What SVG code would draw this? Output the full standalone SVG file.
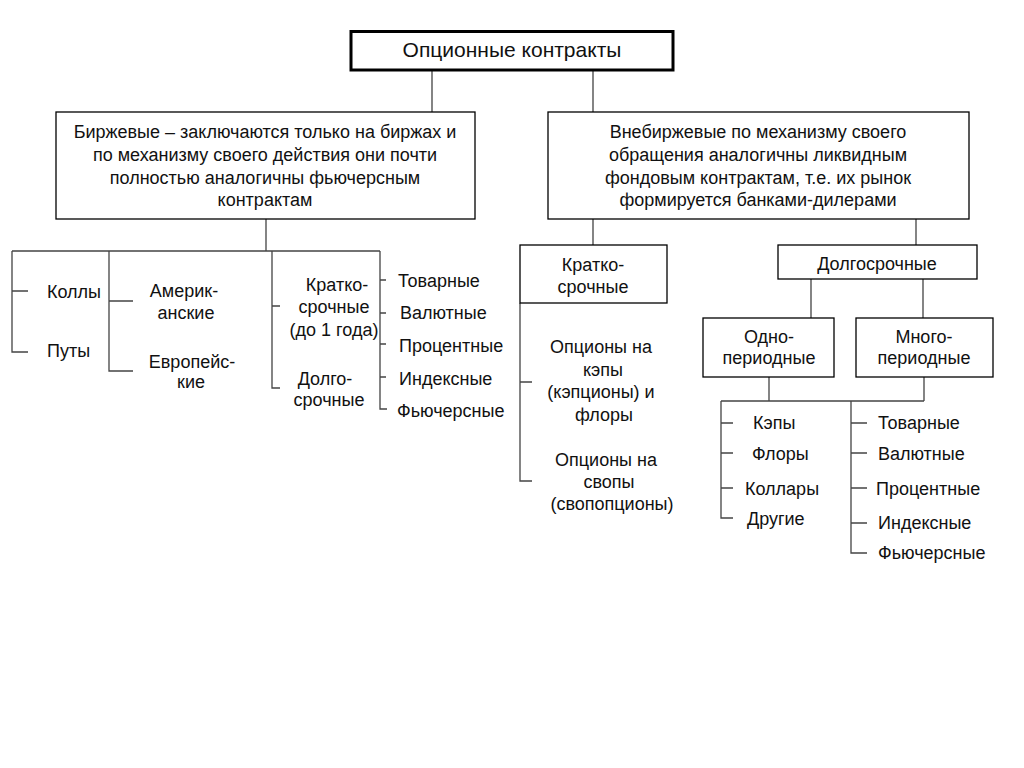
<svg xmlns="http://www.w3.org/2000/svg" width="1024" height="768" viewBox="0 0 1024 768">
<style>
.box{fill:#fff;stroke:#000;stroke-width:1.3}
.topbox{fill:#fff;stroke:#000;stroke-width:3}
.t{font-family:"Liberation Sans",Arial,sans-serif;font-size:18px;fill:#111}
.m{text-anchor:middle}
.ln{stroke:#444;stroke-width:1.3;fill:none}
</style>
<rect width="1024" height="768" fill="#fff"/>
<g id="connectors" class="ln">
<path d="M432 70V112M593 70V112"/>
<path d="M266 219V251M12 251H380"/>
<path d="M12 251V352H28M12 291H28"/>
<path d="M109 251V371H133M109 301H133"/>
<path d="M272 251V388H280M272 306H280"/>
<path d="M380 251V409H387M380 280H386M380 313H386M380 344H386M380 377H386"/>
<path d="M593 219V245M916 219V245"/>
<path d="M520 303V481H532M520 382H532"/>
<path d="M811 279V318M923 279V318"/>
<path d="M769 377V401M924 377V401M721 401H924"/>
<path d="M721 401V518H733M721 423H733M721 453H733M721 488H733"/>
<path d="M851 401V553H867M851 423H867M851 453H867M851 488H867M851 523H867"/>
</g>
<g id="root">
<rect class="topbox" x="351" y="31.5" width="322" height="38.5"/>
<text class="t m" x="512" y="57" style="font-size:21px">Опционные контракты</text>
</g>
<g id="exchange">
<rect class="box" x="56" y="112" width="419" height="107"/>
<text class="t m" x="265" y="138">Биржевые – заключаются только на биржах и</text>
<text class="t m" x="265" y="161">по механизму своего действия они почти</text>
<text class="t m" x="265" y="184">полностью аналогичны фьючерсным</text>
<text class="t m" x="265" y="206">контрактам</text>
</g>
<g id="otc">
<rect class="box" x="548" y="112" width="421" height="107"/>
<text class="t m" x="758" y="138">Внебиржевые по механизму своего</text>
<text class="t m" x="758" y="161">обращения аналогичны ликвидным</text>
<text class="t m" x="758" y="184">фондовым контрактам, т.е. их рынок</text>
<text class="t m" x="758" y="206">формируется банками-дилерами</text>
</g>
<g id="calls-puts">
<text class="t" x="47" y="298">Коллы</text>
<text class="t" x="47" y="357">Путы</text>
</g>
<g id="american-european">
<text class="t m" x="184" y="297">Америк-</text>
<text class="t m" x="186" y="319">анские</text>
<text class="t m" x="192" y="368">Европейс-</text>
<text class="t m" x="191" y="388">кие</text>
</g>
<g id="term">
<text class="t m" x="337" y="291">Кратко-</text>
<text class="t m" x="334" y="313">срочные</text>
<text class="t m" x="334" y="336">(до 1 года)</text>
<text class="t m" x="325" y="385">Долго-</text>
<text class="t m" x="329" y="406">срочные</text>
</g>
<g id="exchange-underlying">
<text class="t" x="398" y="287">Товарные</text>
<text class="t" x="400" y="319">Валютные</text>
<text class="t" x="399" y="352">Процентные</text>
<text class="t" x="399" y="385">Индексные</text>
<text class="t" x="397" y="417">Фьючерсные</text>
</g>
<g id="otc-short">
<rect class="box" x="520" y="245" width="147" height="58"/>
<text class="t m" x="593" y="271">Кратко-</text>
<text class="t m" x="593" y="293">срочные</text>
</g>
<g id="otc-short-items">
<text class="t m" x="601" y="353">Опционы на</text>
<text class="t m" x="603" y="375.5">кэпы</text>
<text class="t m" x="601" y="398">(кэпционы) и</text>
<text class="t m" x="604" y="420.5">флоры</text>
<text class="t m" x="606" y="466">Опционы на</text>
<text class="t m" x="609" y="488">свопы</text>
<text class="t m" x="612" y="510">(свопопционы)</text>
</g>
<g id="otc-long">
<rect class="box" x="778" y="245" width="199" height="34"/>
<text class="t m" x="877" y="270">Долгосрочные</text>
</g>
<g id="single-period">
<rect class="box" x="703" y="318" width="131" height="59"/>
<text class="t m" x="769" y="343">Одно-</text>
<text class="t m" x="769" y="364">периодные</text>
</g>
<g id="multi-period">
<rect class="box" x="856" y="318" width="137" height="59"/>
<text class="t m" x="924" y="343">Много-</text>
<text class="t m" x="924" y="364">периодные</text>
</g>
<g id="single-items">
<text class="t" x="753" y="429">Кэпы</text>
<text class="t" x="752" y="460">Флоры</text>
<text class="t" x="745" y="495">Коллары</text>
<text class="t" x="747" y="525">Другие</text>
</g>
<g id="multi-items">
<text class="t" x="878" y="429">Товарные</text>
<text class="t" x="878" y="460">Валютные</text>
<text class="t" x="876" y="495">Процентные</text>
<text class="t" x="878" y="529">Индексные</text>
<text class="t" x="878" y="559">Фьючерсные</text>
</g>
</svg>
